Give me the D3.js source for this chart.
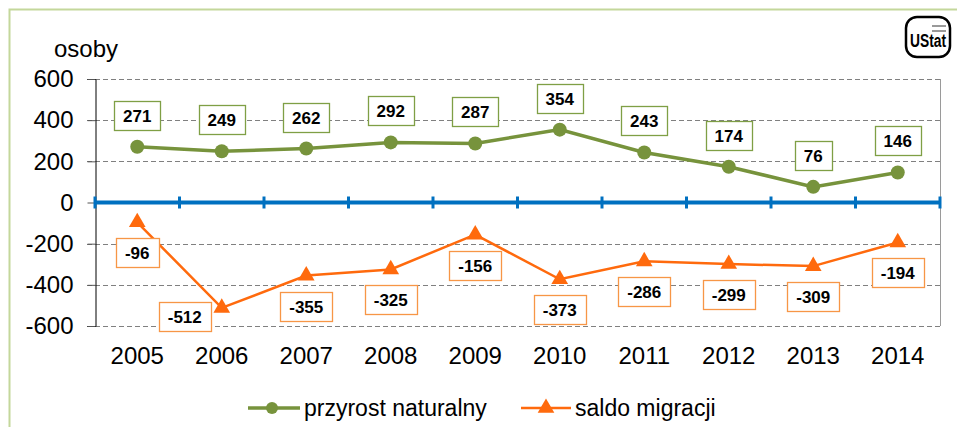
<!DOCTYPE html>
<html>
<head>
<meta charset="utf-8">
<script src="https://cdn.jsdelivr.net/npm/d3@7"></script>
<style>
  body { margin: 0; background: #fff; }
  svg { display: block; font-family: "Liberation Sans", Arial, sans-serif; }
</style>
</head>
<body>
<svg id="chart" width="957" height="427"></svg>
<script>
const years = ["2005", "2006", "2007", "2008", "2009", "2010", "2011", "2012", "2013", "2014"];
const naturalGrowth = [271, 249, 262, 292, 287, 354, 243, 174, 76, 146];
const migration = [-96, -512, -355, -325, -156, -373, -286, -299, -309, -194];
const yTicks = [600, 400, 200, 0, -200, -400, -600];
const seriesNames = ["przyrost naturalny", "saldo migracji"];

const green = "#77933c";
const orange = "#ff6a0d";

const svg = d3.select("#chart");
const margin = { left: 95, right: 17, top: 79, bottom: 101 };
const width = 957, height = 427;

const x = d3.scaleBand().domain(years).range([margin.left, width - margin.right]);
const y = d3.scaleLinear().domain([-600, 600]).range([height - margin.bottom, margin.top]);

// outer frame
svg.append("path")
  .attr("d", `M9.5,${height} V9.5 H${width}`)
  .attr("fill", "none")
  .attr("stroke", "#c4d79b")
  .attr("stroke-width", 2);

// gridlines
svg.append("g")
  .selectAll("line")
  .data(yTicks.filter((d) => d !== 0))
  .join("line")
  .attr("x1", margin.left - 8)
  .attr("x2", width - margin.right)
  .attr("y1", (d) => Math.round(y(d)) + 0.5)
  .attr("y2", (d) => Math.round(y(d)) + 0.5)
  .attr("stroke", "#808080")
  .attr("stroke-dasharray", "5,3");

// right border of plot
svg.append("line")
  .attr("x1", width - margin.right + 0.5)
  .attr("x2", width - margin.right + 0.5)
  .attr("y1", y(600))
  .attr("y2", y(-600))
  .attr("stroke", "#9a9a9a");

// y axis
const yAxis = svg.append("g")
  .attr("transform", `translate(${margin.left + 0.5},0)`)
  .call(d3.axisLeft(y).tickValues(yTicks).tickSize(8).tickPadding(14).tickFormat(d3.format("d")));
yAxis.select(".domain").attr("stroke", "#000");
yAxis.selectAll(".tick line").attr("stroke", "#555");
yAxis.selectAll(".tick text")
  .attr("font-size", 24)
  .attr("fill", "#000")
  .attr("font-family", "Liberation Sans, Arial, sans-serif")
  .text((d) => (d < 0 ? "-" + Math.abs(d) : d));

svg.append("text")
  .attr("x", 54)
  .attr("y", 57)
  .attr("font-size", 24)
  .text("osoby");

// zero axis (blue) with category boundary ticks
const y0 = y(0);
svg.append("line")
  .attr("x1", margin.left)
  .attr("x2", width - margin.right)
  .attr("y1", y0)
  .attr("y2", y0)
  .attr("stroke", "#0070c0")
  .attr("stroke-width", 4);
const boundaries = years.map((d) => x(d)).concat([x.range()[1]]);
svg.append("g")
  .selectAll("line")
  .data(boundaries)
  .join("line")
  .attr("x1", (d) => d)
  .attr("x2", (d) => d)
  .attr("y1", y0 - 6)
  .attr("y2", y0 + 6)
  .attr("stroke", "#0070c0")
  .attr("stroke-width", 3);

// x labels
svg.append("g")
  .selectAll("text")
  .data(years)
  .join("text")
  .attr("x", (d) => x(d) + x.bandwidth() / 2)
  .attr("y", 364)
  .attr("text-anchor", "middle")
  .attr("font-size", 24)
  .text((d) => d);

const cx = (i) => x(years[i]) + x.bandwidth() / 2;
const line = d3.line().x((d, i) => cx(i)).y((d) => y(d));

// green series
svg.append("path")
  .datum(naturalGrowth)
  .attr("d", line)
  .attr("fill", "none")
  .attr("stroke", green)
  .attr("stroke-width", 3.5);
svg.append("g")
  .selectAll("circle")
  .data(naturalGrowth)
  .join("circle")
  .attr("cx", (d, i) => cx(i))
  .attr("cy", (d) => y(d))
  .attr("r", 7)
  .attr("fill", green);

// orange series
svg.append("path")
  .datum(migration)
  .attr("d", line)
  .attr("fill", "none")
  .attr("stroke", orange)
  .attr("stroke-width", 2.5);
const tri = d3.symbol().type(d3.symbolTriangle).size(120);
svg.append("g")
  .selectAll("path")
  .data(migration)
  .join("path")
  .attr("d", tri)
  .attr("transform", (d, i) => `translate(${cx(i)},${y(d)})`)
  .attr("fill", orange);

// data labels in boxes
function labels(data, color, dy) {
  const g = svg.append("g");
  const bottomLimit = 317;
  data.forEach((v, i) => {
    let lx = cx(i);
    let ly = y(v) + dy;
    if (ly > bottomLimit) {
      // label pushed against plot bottom, shifted left like the original
      ly = bottomLimit;
      lx -= 37;
    }
    const txt = String(v);
    const rect = g.append("rect");
    const t = g.append("text")
      .attr("x", lx)
      .attr("y", ly + 6)
      .attr("text-anchor", "middle")
      .attr("font-size", 17)
      .attr("font-weight", "bold")
      .text(txt);
    const w = t.node().getComputedTextLength() + 18;
    rect
      .attr("x", Math.round(lx - w / 2) + 0.5)
      .attr("y", Math.round(ly - 15) + 0.5)
      .attr("width", Math.round(w))
      .attr("height", 29)
      .attr("fill", "#fff")
      .attr("stroke", color)
      .attr("stroke-width", 1.3);
  });
}
labels(naturalGrowth, "#7f9f45", -31);
labels(migration, "#f79646", 31);

// legend
const legend = svg.append("g").attr("transform", "translate(0,408)");
legend.append("line").attr("x1", 248).attr("x2", 300).attr("stroke", green).attr("stroke-width", 3.5);
legend.append("circle").attr("cx", 272).attr("r", 6).attr("fill", green);
legend.append("text").attr("x", 304).attr("y", 8).attr("font-size", 23).text(seriesNames[0]);
legend.append("line").attr("x1", 521).attr("x2", 571).attr("stroke", orange).attr("stroke-width", 2.5);
legend.append("path").attr("d", tri).attr("transform", "translate(546,0)").attr("fill", orange);
legend.append("text").attr("x", 575).attr("y", 8).attr("font-size", 23).text(seriesNames[1]);

// logo
const logo = svg.append("g").attr("transform", "translate(906,17)");
logo.append("rect").attr("width", 44).attr("height", 40).attr("rx", 11)
  .attr("fill", "#fff").attr("stroke", "#000").attr("stroke-width", 2.5);
logo.append("g").selectAll("line").data([9, 14])
  .join("line")
  .attr("x1", 26).attr("x2", 40).attr("y1", (d) => d).attr("y2", (d) => d)
  .attr("stroke", "#000").attr("stroke-width", 0.8);
logo.append("text")
  .attr("x", 4).attr("y", 30)
  .attr("font-size", 18)
  .attr("font-weight", "bold")
  .attr("font-family", "Liberation Sans Narrow, Liberation Sans, sans-serif")
  .attr("textLength", 36).attr("lengthAdjust", "spacingAndGlyphs")
  .text("UStat");
</script>
</body>
</html>
